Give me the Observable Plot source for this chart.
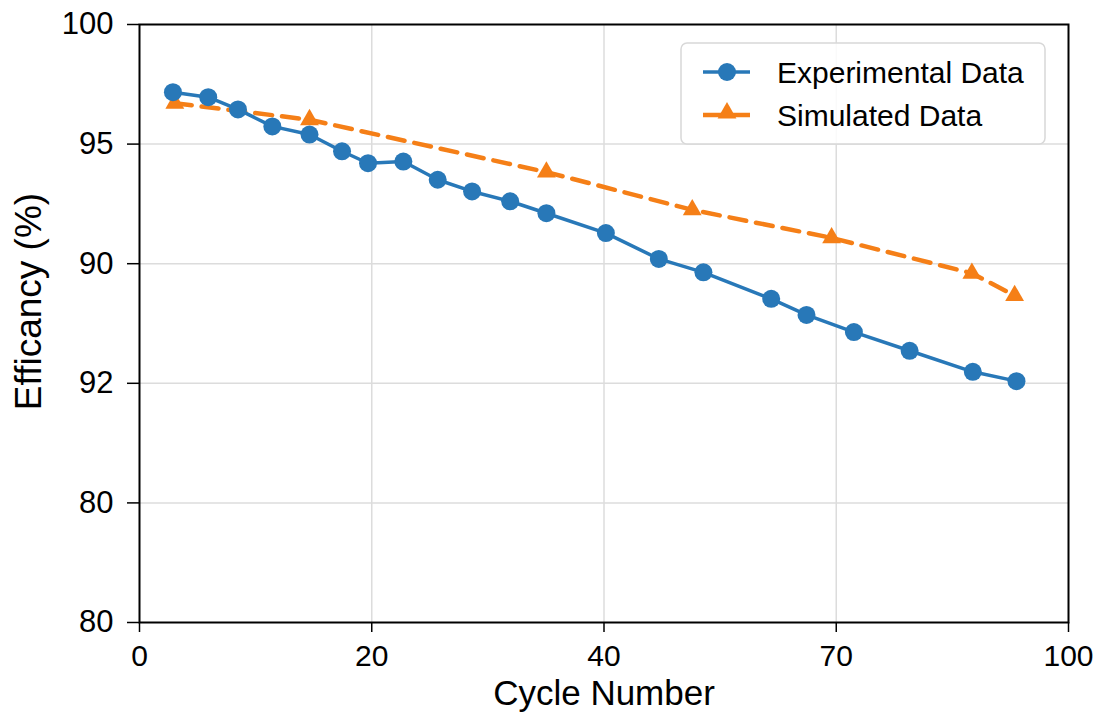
<!DOCTYPE html>
<html><head><meta charset="utf-8">
<script src="https://cdn.jsdelivr.net/npm/d3@7"></script>
<script src="https://cdn.jsdelivr.net/npm/@observablehq/plot@0.6"></script>
<style>
body{margin:0;background:#fff;}
#chart{position:relative;width:1094px;height:715px;}
</style>
</head><body><div id="chart"></div>
<script>
// Experimental series (cycle position, efficiency %)
const expX = [3.6, 7.4, 10.6, 14.3, 18.3, 21.8, 24.6, 28.4, 32.1, 35.8, 39.9, 43.8, 50.2, 55.9, 60.7, 68.0, 71.8, 76.9, 82.9, 89.7, 94.4];
const expY = [97.17, 96.96, 96.45, 95.74, 95.40, 94.70, 94.20, 94.27, 93.51, 93.02, 92.61, 92.11, 91.28, 90.20, 89.64, 88.53, 87.86, 87.14, 86.36, 85.48, 85.09];
// Simulated series
const simX = [3.8, 18.3, 43.8, 59.5, 74.5, 89.6, 94.2];
const simY = [96.71, 96.02, 93.83, 92.25, 91.08, 89.60, 88.67];
// Axis ticks and their printed labels
const yTicks = [100, 95, 90, 85, 80, 75];
const yTickLabels = ["100", "95", "90", "92", "80", "80"];
const xTicks = [0, 25, 50, 75, 100];
const xTickLabels = ["0", "20", "40", "70", "100"];
const seriesNames = ["Experimental Data", "Simulated Data"];
const seriesColors = ["#2878b8", "#f57f17"];
const xTitle = "Cycle Number";
const yTitle = "Efficancy (%)";

const expData = expX.map((x, i) => ({x, y: expY[i]}));
const simData = simX.map((x, i) => ({x, y: simY[i]}));
const fmtX = d => xTickLabels[xTicks.indexOf(d)];
const fmtY = d => yTickLabels[yTicks.indexOf(d)];

const font = "'Liberation Sans', Arial, sans-serif";

const chart = Plot.plot({
  width: 1094, height: 715,
  marginLeft: 139, marginRight: 26, marginTop: 24, marginBottom: 93,
  style: {fontFamily: font, fontSize: "31px", color: "#000", background: "#fff"},
  x: {domain: [0, 100], label: null},
  y: {domain: [75, 100], label: null},
  marks: [
    Plot.gridX(xTicks.slice(1, -1), {stroke: "#dcdcdc", strokeOpacity: 1, strokeWidth: 1.5}),
    Plot.gridY(yTicks.slice(1, -1), {stroke: "#dcdcdc", strokeOpacity: 1, strokeWidth: 1.5}),
    Plot.axisX(xTicks, {tickFormat: fmtX, tickSize: 10, tickPadding: 12, fontSize: 30, strokeWidth: 1.5, label: null}),
    Plot.axisY(yTicks, {tickFormat: fmtY, tickSize: 12, tickPadding: 14, fontSize: 31, strokeWidth: 1.5, label: null}),
    Plot.line(simData, {x: "x", y: "y", stroke: seriesColors[1], strokeWidth: 4.5, strokeDasharray: "17,10"}),
    Plot.dot(simData, {x: "x", y: "y", symbol: "triangle", r: 7, fill: seriesColors[1], stroke: "none"}),
    Plot.line(expData, {x: "x", y: "y", stroke: seriesColors[0], strokeWidth: 3.5}),
    Plot.dot(expData, {x: "x", y: "y", symbol: "circle", r: 9, fill: seriesColors[0], stroke: "none"}),
    Plot.frame({stroke: "#000", strokeWidth: 2}),
    Plot.text([xTitle], {frameAnchor: "bottom", dy: 71, lineAnchor: "middle", textAnchor: "middle", fontSize: 35}),
    Plot.text([yTitle], {frameAnchor: "left", dx: -110, dy: -22, rotate: -90, lineAnchor: "middle", textAnchor: "middle", fontSize: 37})
  ]
});
document.getElementById("chart").appendChild(chart);

// Legend inside the plot area (upper right)
const svg = d3.select(chart);
const lg = svg.append("g").attr("font-family", font).attr("text-anchor", "start");
lg.append("rect").attr("x", 681).attr("y", 43).attr("width", 364).attr("height", 101)
  .attr("rx", 6).attr("fill", "#fff").attr("fill-opacity", 0.85).attr("stroke", "#d8d8d8").attr("stroke-width", 1.5);
seriesNames.forEach((name, i) => {
  const cy = 72 + i * 43;
  lg.append("line").attr("x1", 703).attr("x2", 750).attr("y1", cy).attr("y2", cy)
    .attr("stroke", seriesColors[i]).attr("stroke-width", i === 0 ? 3.5 : 4.5);
  if (i === 0) {
    lg.append("circle").attr("cx", 727).attr("cy", cy).attr("r", 9).attr("fill", seriesColors[i]);
  } else {
    lg.append("path").attr("d", d3.symbol(d3.symbolTriangle, Math.PI * 7 * 7)()).attr("transform", `translate(727,${cy - 2})`).attr("fill", seriesColors[i]);
  }
  lg.append("text").attr("x", 777).attr("y", cy).attr("dy", "0.35em").attr("font-size", 30).attr("fill", "#000").attr("text-anchor", "start").text(name);
});
</script>
</body></html>
